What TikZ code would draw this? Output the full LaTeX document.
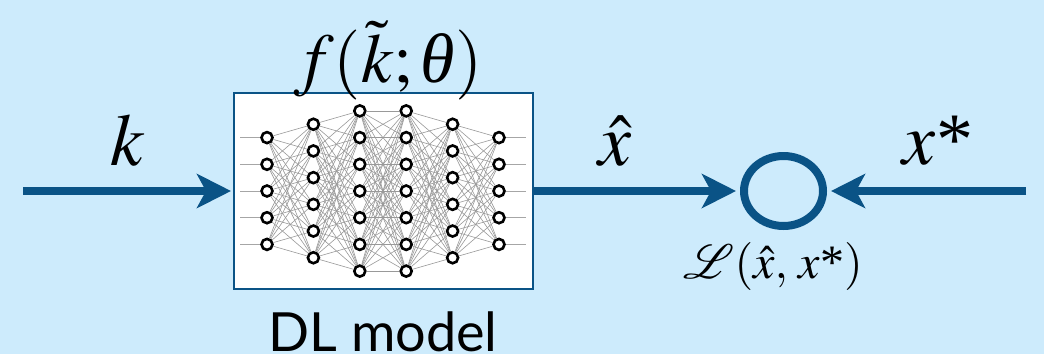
\documentclass[tikz,border=0pt]{standalone}
\usepackage{mathptmx}
\usepackage{mathrsfs}
\usepackage{fontspec}
\setmainfont{Liberation Serif}
\setsansfont{Lato}
\usetikzlibrary{arrows.meta,shapes.geometric}
\definecolor{bgblue}{HTML}{CDEBFC}
\definecolor{arrblue}{HTML}{0A5386}
\newcommand{\tstar}{\mbox{\rmfamily\upshape *}}
\newcommand{\itheta}{\mbox{\rmfamily\itshape θ}}
\tikzset{
  flow/.style={draw=arrblue, line width=8pt, -{Stealth[length=34pt,width=34pt,inset=9pt]}},
  lbl/.style={anchor=base, inner sep=0pt, font=\fontsize{74}{80}\selectfont},
  neuron/.style={circle, draw=black, line width=2.6pt, fill=white, minimum size=11pt, inner sep=0pt},
  nnedge/.style={draw=black!40, line width=0.6pt},
  iolink/.style={draw=black!35, line width=1pt},
  modelbox/.style={draw=arrblue, line width=2pt, fill=white, minimum width=299pt, minimum height=196pt, inner sep=0pt},
  lossnode/.style={ellipse, draw=arrblue, line width=8pt, minimum width=79pt, minimum height=70pt, inner sep=0pt},
}
\begin{document}
\begin{tikzpicture}[x=1pt,y=-1pt]
\fill[bgblue] (0,0) rectangle (1044,354);
\useasboundingbox (0,0) rectangle (1044,354);

% model box
\node[modelbox] (box) at (383.5,191) {};

% neural network nodes
\foreach \c/\n in {1/5,2/6,3/7,4/7,5/6,6/5}{
  \foreach \r in {1,...,\n}{
    \node[neuron] (n-\c-\r) at ({267+46.4*(\c-1)},{191+26.7*(\r-(\n+1)/2)}) {};
  }
}
% edges between layers
\foreach \a/\na/\b/\nb in {1/5/2/6,2/6/3/7,3/7/4/7,4/7/5/6,5/6/6/5}{
  \foreach \i in {1,...,\na}{
    \foreach \j in {1,...,\nb}{
      \draw[nnedge] (n-\a-\i) -- (n-\b-\j);
    }
  }
}
% input / output stubs
\foreach \r in {1,...,5}{
  \coordinate (in-\r) at (240,{191+26.7*(\r-3)});
  \coordinate (out-\r) at (526,{191+26.7*(\r-3)});
  \draw[iolink] (in-\r) -- (n-1-\r);
  \draw[iolink] (n-6-\r) -- (out-\r);
}

% loss node
\node[lossnode] (loss) at (783.5,191) {};

% arrows
\coordinate (src) at (23,191);
\coordinate (tgt) at (1026,191);
\draw[flow, shorten >=2pt] (src) -- (box.west);
\draw[flow, shorten >=4pt] (box.east) -- (loss.west);
\draw[flow, shorten >=4pt] (tgt) -- (loss.east);

% labels
\node[lbl] (klab) at (128,165) {$k$};
\node[lbl] (xhatlab) at (615,165) {$\hat{x}$};
\node[lbl] (xstarlab) at (938,164) {$x\tstar$};
\node[lbl, font=\fontsize{70}{76}\selectfont] (flab) at (388,82) {$f(\tilde{k};\itheta)$};
\node[anchor=base, inner sep=0pt, font=\fontsize{10}{12}\selectfont, scale=4.8] (losslab) at (773,278) {$\mathscr{L}(\hat{x},\,x\tstar)$};
\node[anchor=base, inner sep=0pt, font=\sffamily\fontsize{54}{60}\selectfont] (dllab) at (383,351) {DL model};
\end{tikzpicture}
\end{document}
